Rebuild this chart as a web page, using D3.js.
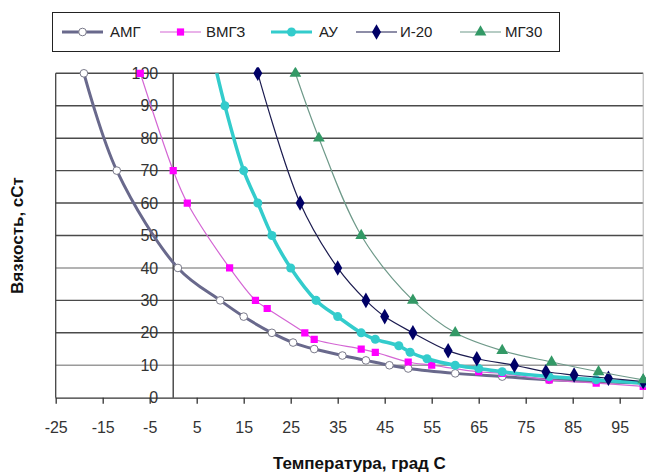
<!DOCTYPE html>
<html><head><meta charset="utf-8">
<script src="https://cdn.jsdelivr.net/npm/d3@7"></script>
<style>body{margin:0;background:#fff}svg{display:block}text{font-family:"Liberation Sans",Arial,sans-serif}</style>
</head><body>
<svg id="c" width="646" height="475"></svg>
<script>
const seriesNames = ["АМГ","ВМГЗ","АУ","И-20","МГ30"];
const amg  = [[-19,100],[-12,70],[1,40],[10,30],[15,25],[21,20],[25.5,17],[30,15],[36,13],[41,11.5],[46,10],[50,9],[60,7.5],[70,6.5],[80,5.5],[90,5],[100,4.5]];
const vmgz = [[-7,100],[0,70],[3,60],[12,40],[17.5,30],[20,27.5],[28,20],[30,18],[40,15],[43,14],[50,11],[55,10],[65,8],[70,7.5],[80,5.5],[90,4.5],[100,3.5]];
const au   = [[7.7,110],[11,90],[15,70],[18,60],[21,50],[25,40],[30.4,30],[35,25],[40,20],[43,18],[48,16],[50.4,14],[54,12],[60,10],[65,9],[70,8],[80,6.5],[90,5.5],[100,4.5]];
const i20  = [[18,100],[27,60],[35,40],[41,30],[45,25],[51,20],[58.5,14.5],[64.6,12],[72.6,10],[79.3,8],[85.3,7],[92.6,6],[100,5]];
const mg30 = [[26,100],[31,80],[40,50],[51,30],[60,20],[70,14.5],[80.5,11],[90.5,8],[100,5.5]];
const xTicks = [-25,-15,-5,5,15,25,35,45,55,65,75,85,95];
const yTicks = [0,10,20,30,40,50,60,70,80,90,100];
const xTitle = "Температура, град С";
const yTitle = "Вязкость, сСт";

const svg = d3.select("#c");
const L=55.7, R=643.2, T=73.3, B=397.7;
const x = d3.scaleLinear().domain([-25,100]).range([L,R]);
const y = d3.scaleLinear().domain([0,100]).range([B,T]);

svg.append("defs").append("clipPath").attr("id","pc")
  .append("rect").attr("x",L-6).attr("y",T-6).attr("width",R-L+12).attr("height",B-T+12);
svg.append("defs").append("clipPath").attr("id","lc")
  .append("rect").attr("x",L).attr("y",T).attr("width",R-L).attr("height",B-T);

// gridlines
yTicks.filter(v=>v>0).forEach(v=>{
  svg.append("line").attr("x1",L).attr("x2",R).attr("y1",y(v)).attr("y2",y(v))
    .attr("stroke",(v===40||v===10)?"#9a9a9a":"#4a4a4a").attr("stroke-width",1.4);
});
// borders
svg.append("line").attr("x1",L).attr("x2",L).attr("y1",T).attr("y2",B).attr("stroke","#444").attr("stroke-width",1.3);
svg.append("line").attr("x1",R).attr("x2",R).attr("y1",T).attr("y2",B).attr("stroke","#b0b0b0").attr("stroke-width",1);
svg.append("line").attr("x1",x(0)).attr("x2",x(0)).attr("y1",T).attr("y2",B).attr("stroke","#333").attr("stroke-width",1.3);

// x axis
const xa = svg.append("g").attr("transform",`translate(0,${B})`)
  .call(d3.axisBottom(x).tickValues(xTicks).tickSize(6).tickPadding(18).tickFormat(d=>String(d)));
xa.select(".domain").attr("stroke","#333").attr("stroke-width",1.3).attr("d",`M${L},0.5H${R}`);
xa.selectAll(".tick line").attr("stroke","#333").attr("stroke-width",1.3);
xa.selectAll("text").attr("font-size",16).attr("fill","#333").attr("font-family","Liberation Sans, Arial, sans-serif");

// y labels
const ya = svg.append("g").attr("transform",`translate(${x(0)},0)`)
  .call(d3.axisLeft(y).tickValues(yTicks).tickSize(0).tickPadding(15).tickFormat(d=>String(d)));
ya.select(".domain").remove();
ya.selectAll("text").attr("font-size",16).attr("fill","#333").attr("font-family","Liberation Sans, Arial, sans-serif");

// titles
svg.append("text").attr("x",(L+R)/2+10).attr("y",469).attr("text-anchor","middle")
  .attr("font-size",17).attr("font-weight","bold").attr("fill","#111").text(xTitle);
svg.append("text").attr("transform",`translate(23,${(T+B)/2}) rotate(-90)`).attr("text-anchor","middle")
  .attr("font-size",17).attr("font-weight","bold").attr("fill","#111").text(yTitle);

const styles = [
  {data:amg, line:"#69698c", lw:3, shape:"circleOpen", fill:"#fff", ms:"#7a7a8a"},
  {data:vmgz, line:"#d466d4", lw:1.2, shape:"square", fill:"#ff00ff", ms:"#ff00ff"},
  {data:au, line:"#33cccc", lw:3.5, shape:"circle", fill:"#33cccc", ms:"#33cccc"},
  {data:i20, line:"#1c1c50", lw:1.2, shape:"diamond", fill:"#000066", ms:"#000066"},
  {data:mg30, line:"#6f9a8a", lw:1.2, shape:"triangle", fill:"#339966", ms:"#339966"}
];
const sym = {circleOpen:d3.symbolCircle, circle:d3.symbolCircle, square:d3.symbolSquare, diamond:d3.symbolDiamond, triangle:d3.symbolTriangle};
const sz = {circleOpen:46, circle:64, square:52, diamond:70, triangle:60};
const line = d3.line().x(d=>x(d[0])).y(d=>y(d[1])).curve(d3.curveCatmullRom.alpha(0.5));

function marker(g, s, cx, cy){
  const p = g.append("path").attr("d", d3.symbol().type(sym[s.shape]).size(sz[s.shape])())
    .attr("transform",`translate(${cx},${cy})`).attr("fill",s.fill);
  if(s.shape==="circleOpen") p.attr("stroke",s.ms).attr("stroke-width",1);
}
styles.forEach(s=>{
  svg.append("path").attr("d",line(s.data)).attr("fill","none").attr("stroke",s.line)
    .attr("stroke-width",s.lw).attr("clip-path","url(#lc)");
  const g = svg.append("g").attr("clip-path","url(#pc)");
  s.data.filter(d=>d[1]<=100).forEach(d=>marker(g,s,x(d[0]),y(d[1])));
});

// legend
const lg = svg.append("g");
lg.append("rect").attr("x",52.5).attr("y",12.5).attr("width",507).attr("height",39)
  .attr("fill","#fff").attr("stroke","#222").attr("stroke-width",1);
const lx = [62,160,271,356,460];
const tx = [110,206,319,400,505];
styles.forEach((s,i)=>{
  lg.append("line").attr("x1",lx[i]).attr("x2",lx[i]+41).attr("y1",32).attr("y2",32)
    .attr("stroke",s.line).attr("stroke-width",Math.min(s.lw,3));
  marker(lg,s,lx[i]+20.5,32);
  lg.append("text").attr("x",tx[i]).attr("y",32).attr("dy","0.35em").attr("font-size",15)
    .attr("fill","#222").text(seriesNames[i]);
});
</script>
</body></html>
